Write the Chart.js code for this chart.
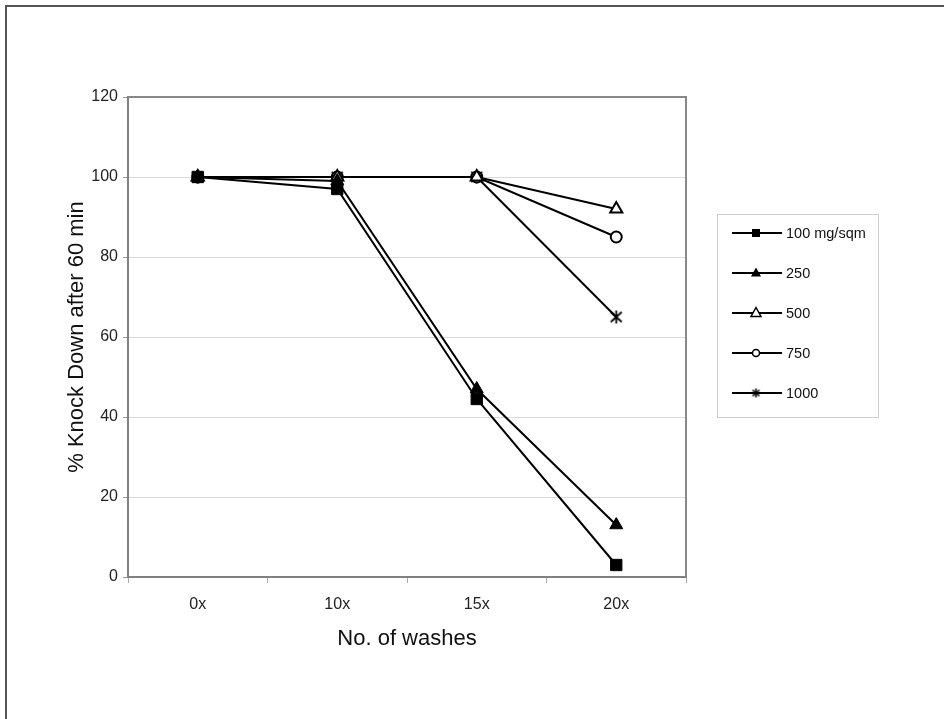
<!DOCTYPE html>
<html>
<head>
<meta charset="utf-8">
<script src="https://cdn.jsdelivr.net/npm/chart.js"></script>
<style>
  body { margin: 0; background: #fff; }
  canvas { display: block; }
</style>
</head>
<body>
<canvas id="chart"></canvas>
<script>
const washes = ['0x', '10x', '15x', '20x'];
const seriesNames = ['100 mg/sqm', '250', '500', '750', '1000'];
const kd100 = [100, 97, 44.5, 3];
const kd250 = [100, 99, 47, 13];
const kd500 = [100, 100, 100, 92];
const kd750 = [100, 100, 100, 85];
const kd1000 = [100, 100, 100, 65];
const yTicks = [0, 20, 40, 60, 80, 100, 120];

// asterisk marker (X plus vertical bar)
function makeStar(size, lw) {
  const c = document.createElement('canvas');
  c.width = size; c.height = size;
  const g = c.getContext('2d');
  g.strokeStyle = '#000';
  g.lineWidth = lw;
  const m = 1;
  g.beginPath();
  g.moveTo(size / 2, m); g.lineTo(size / 2, size - m);
  g.moveTo(m + 1, m + 1.5); g.lineTo(size - m - 1, size - m - 1.5);
  g.moveTo(size - m - 1, m + 1.5); g.lineTo(m + 1, size - m - 1.5);
  g.stroke();
  return c;
}
const starBig = makeStar(15, 1.8);
const starSmall = makeStar(11, 1.6);

const styles = [
  { pointStyle: 'rect', pointRadius: 8, pointBackgroundColor: '#000', pointBorderWidth: 1 },
  { pointStyle: 'triangle', pointRadius: 7.5, pointBackgroundColor: '#000', pointBorderWidth: 1 },
  { pointStyle: 'triangle', pointRadius: 7, pointBackgroundColor: '#fff', pointBorderWidth: 2 },
  { pointStyle: 'circle', pointRadius: 5.5, pointBackgroundColor: '#fff', pointBorderWidth: 2 },
  { pointStyle: starBig, pointRadius: 7, pointBackgroundColor: '#000', pointBorderWidth: 1 }
];
const values = [kd100, kd250, kd500, kd750, kd1000];

const datasets = seriesNames.map((name, i) => Object.assign({
  label: name,
  data: values[i],
  borderColor: '#000',
  borderWidth: 2,
  pointBorderColor: '#000',
  fill: false,
  tension: 0
}, styles[i]));

function drawLegendMarker(g, kind, x, y) {
  g.save();
  g.fillStyle = '#000';
  g.strokeStyle = '#000';
  g.lineWidth = 1.5;
  if (kind === 0) {
    g.fillRect(x - 4, y - 4, 8, 8);
  } else if (kind === 1 || kind === 2) {
    g.beginPath();
    g.moveTo(x, y - 5.5); g.lineTo(x + 5, y + 3.5); g.lineTo(x - 5, y + 3.5);
    g.closePath();
    if (kind === 1) g.fill();
    else { g.fillStyle = '#fff'; g.fill(); g.stroke(); }
  } else if (kind === 3) {
    g.beginPath();
    g.arc(x, y, 3.5, 0, Math.PI * 2);
    g.fillStyle = '#fff'; g.fill(); g.stroke();
  } else {
    g.drawImage(starSmall, x - 5.5, y - 5.5);
  }
  g.restore();
}

const framePlugin = {
  id: 'frame',
  beforeDraw(chart) {
    const g = chart.ctx;
    g.save();
    g.fillStyle = '#fff';
    g.fillRect(0, 0, chart.width, chart.height);
    g.strokeStyle = '#555';
    g.lineWidth = 2;
    g.beginPath();
    g.moveTo(6, chart.height); g.lineTo(6, 6); g.lineTo(chart.width, 6);
    g.stroke();
    g.restore();
  },
  afterDraw(chart) {
    const g = chart.ctx;
    const a = chart.chartArea;
    g.save();
    // plot area top/right border
    g.strokeStyle = '#888';
    g.lineWidth = 2;
    g.beginPath();
    g.moveTo(a.left, a.top); g.lineTo(a.right, a.top); g.lineTo(a.right, a.bottom);
    g.stroke();
    // legend
    const bx = a.right + 31, by = 214, bw = 161, bh = 203;
    g.strokeStyle = '#cfcfcf';
    g.lineWidth = 1;
    g.strokeRect(bx + 0.5, by + 0.5, bw, bh);
    g.font = '14.5px "Liberation Sans", Arial, sans-serif';
    g.textBaseline = 'middle';
    seriesNames.forEach((name, i) => {
      const y = by + 19 + i * 40;
      g.strokeStyle = '#000';
      g.lineWidth = 2;
      g.beginPath();
      g.moveTo(bx + 15, y); g.lineTo(bx + 65, y);
      g.stroke();
      drawLegendMarker(g, i, bx + 39, y);
      g.fillStyle = '#111';
      g.fillText(name, bx + 69, y + 0.5);
    });
    g.restore();
  }
};

const ctx = document.querySelector('#chart').getContext('2d');
ctx.canvas.width = 944;
ctx.canvas.height = 719;
const chart = new Chart(ctx, {
  type: 'line',
  data: { labels: washes, datasets: datasets },
  plugins: [framePlugin],
  options: {
    responsive: false,
    animation: false,
    layout: { padding: { left: 60, top: 97, right: 258, bottom: 60 } },
    plugins: { legend: { display: false }, tooltip: { enabled: false } },
    scales: {
      x: {
        type: 'category',
        offset: true,
        afterFit: (s) => { s.height = 82; },
        grid: { display: true, drawOnChartArea: false, offset: true, tickLength: 6, color: '#aaa' },
        border: { color: '#808080', width: 2 },
        ticks: { color: '#222', padding: 12, font: { size: 16, family: '"Liberation Sans", Arial, sans-serif' } },
        title: {
          display: true, text: 'No. of washes', color: '#111',
          padding: { top: 0, bottom: 7 },
          font: { size: 22, family: '"Liberation Sans", Arial, sans-serif' }
        }
      },
      y: {
        min: 0, max: 120,
        afterFit: (s) => { s.width = 68; },
        afterBuildTicks: (s) => { s.ticks = yTicks.map(v => ({ value: v })); },
        grid: { color: '#d9d9d9', tickColor: '#999', tickLength: 5 },
        border: { color: '#808080', width: 2 },
        ticks: { color: '#222', padding: 5, font: { size: 16, family: '"Liberation Sans", Arial, sans-serif' } },
        title: {
          display: true, text: '% Knock Down after 60 min', color: '#111',
          padding: { top: 4, bottom: 0 },
          font: { size: 22, family: '"Liberation Sans", Arial, sans-serif' }
        }
      }
    }
  }
});
</script>
</body>
</html>
